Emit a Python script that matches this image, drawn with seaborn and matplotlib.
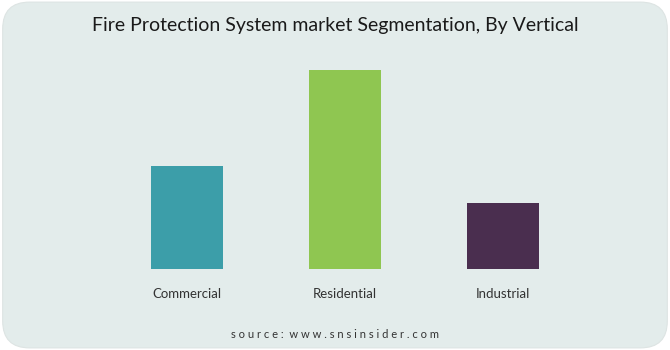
import matplotlib
matplotlib.use("Agg")
import matplotlib.pyplot as plt
from matplotlib.patches import FancyBboxPatch
import seaborn as sns
import pandas as pd

categories = ["Commercial", "Residential", "Industrial"]
values = [52, 100, 33]
colors = ["#3c9ea9", "#8fc651", "#4a2e4f"]

sns.set_theme(style="white")
plt.rcParams['font.family'] = ['Lato', 'DejaVu Sans']

fig = plt.figure(figsize=(6.7, 3.5), dpi=100, facecolor="white")
bg = FancyBboxPatch((0.004, 0.006), 0.992, 0.988, boxstyle="round,pad=0,rounding_size=0.04",
                    transform=fig.transFigure, facecolor="#e3eceb", edgecolor="#dde4e3",
                    linewidth=0.8, mutation_aspect=670/350, zorder=-10)
fig.patches.append(bg)

ax = fig.add_axes([0.161, 0.2314, 0.708, 0.597])
ax.set_zorder(5)
ax.set_facecolor("none")
df = pd.DataFrame({"Vertical": categories, "Value": values})
sns.barplot(data=df, x="Vertical", y="Value", hue="Vertical", palette=colors,
            width=0.456, legend=False, ax=ax, saturation=1, linewidth=0, edgecolor="none")
ax.set_xlim(-0.5, 2.5)
ax.set_ylim(0, 105)
ax.set_xlabel("")
ax.set_ylabel("")
ax.set_yticks([])
for s in ax.spines.values():
    s.set_visible(False)
ax.tick_params(axis="x", length=0, pad=14, labelsize=9.5, labelcolor="#333333")

fig.text(0.5, 0.926, "Fire Protection System market Segmentation, By Vertical",
         ha="center", va="center", fontsize=14, color="#1a1a1a", zorder=5)
fig.text(0.5, 0.043, "s o u r c e :  w w w . s n s i n s i d e r . c o m",
         ha="center", va="center", fontsize=8, color="#333333", zorder=5)

fig.savefig("out.png", dpi=100, facecolor="white")
